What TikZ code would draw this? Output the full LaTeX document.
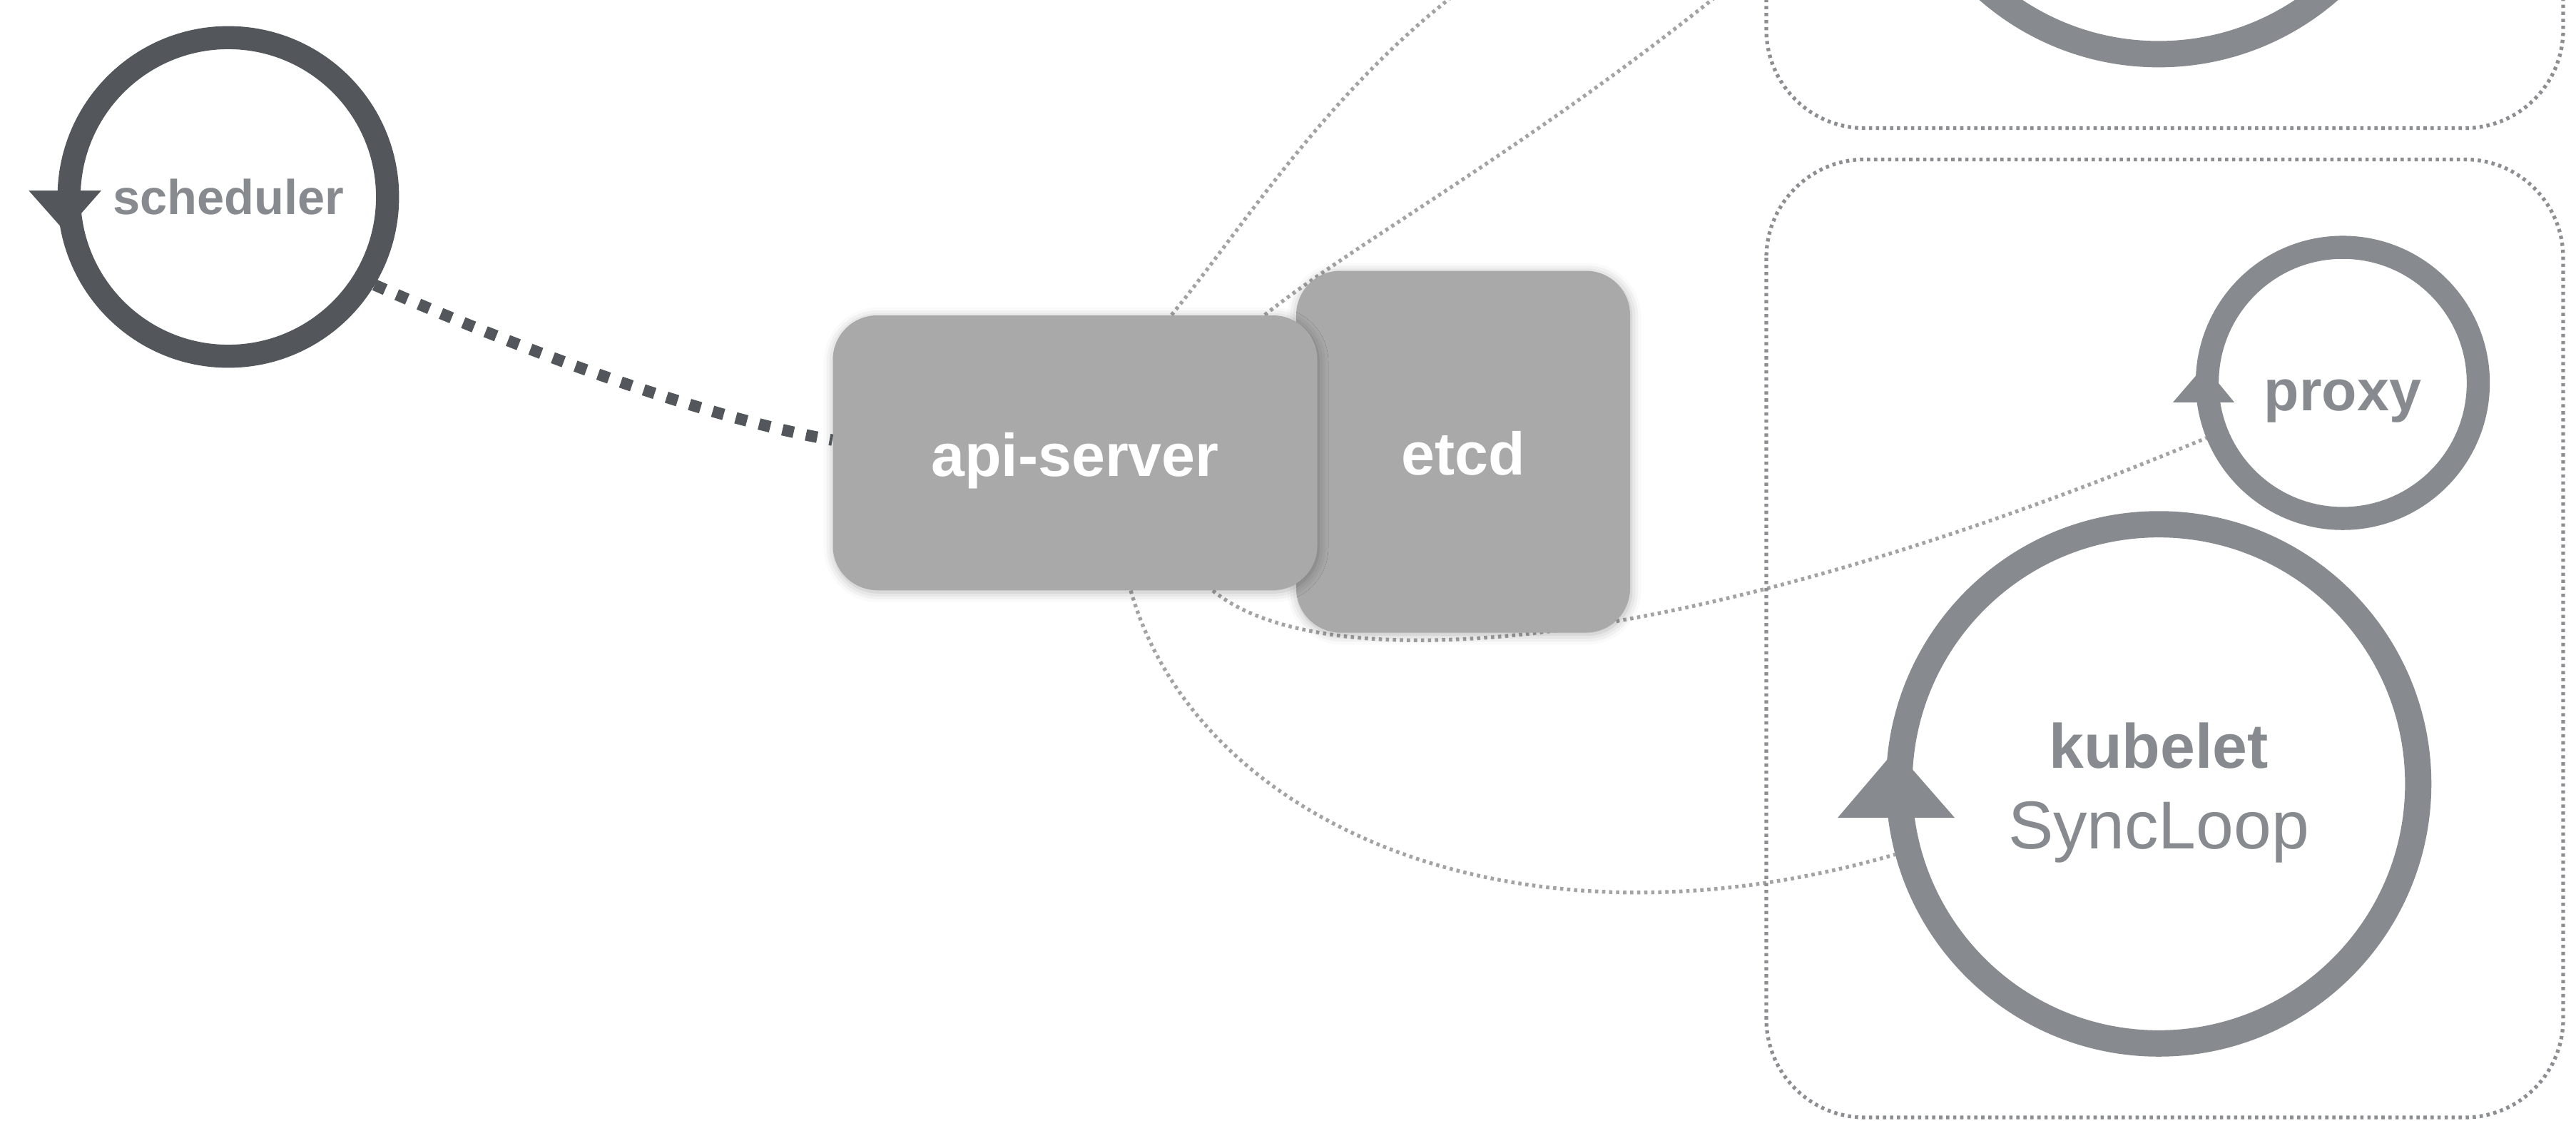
\documentclass[tikz,border=0pt]{standalone}
\usepackage{fontspec}
\setmainfont{Liberation Sans}
\usetikzlibrary{shadows.blur,backgrounds}

\definecolor{ringdark}{HTML}{53575C}
\definecolor{ringgray}{HTML}{878A8E}
\definecolor{boxgray}{HTML}{A8A9A8}
\definecolor{wiregray}{HTML}{A3A3A3}
\definecolor{framegray}{HTML}{8C8E91}

\tikzset{
	loopring/.style={circle, draw=ringgray, line width=9.2pt, text=ringgray},
	compbox/.style={rounded corners=0.62cm, fill=boxgray, text=white, font=\bfseries\fontsize{24}{28}\selectfont,
		blur shadow={shadow xshift=0.4pt, shadow yshift=-0.8pt, shadow blur radius=4pt, shadow opacity=30}},
	nodeframe/.style={draw=framegray, line width=1.5pt, dash pattern=on 1.3pt off 1.5pt, rounded corners=1.38cm},
	wire/.style={draw=wiregray, line width=1.5pt, dash pattern=on 1.3pt off 1.5pt},
}

\begin{document}
\begin{tikzpicture}

	\useasboundingbox (0,0) rectangle (36.11,-15.70);
	\clip (0,0) rectangle (36.11,-15.70);

	%node frames on the right
	\draw[nodeframe] (24.76,11.63) rectangle (35.93,-1.796);
	\draw[nodeframe] (24.76,-2.234) rectangle (35.93,-15.66);

	%master side
	\node[loopring, draw=ringdark, minimum size=4.465cm, font=\bfseries\fontsize{19.5}{24}\selectfont] (sched) at (3.20,-2.76) {scheduler};
	\fill[ringdark] (0.403,-2.671) -- (1.419,-2.671) -- (0.914,-3.247) -- cycle;

	\node[compbox, minimum width=4.68cm, minimum height=5.07cm] (etcd) at (20.51,-6.33) {\smash{\raisebox{-9.3pt}{etcd}}};
	\node[compbox, minimum width=6.79cm, minimum height=3.85cm] (api) at (15.07,-6.345) {\smash{\raisebox{-9.3pt}{api-server}}};

	%node side
	\node[loopring, minimum size=3.80cm, font=\bfseries\fontsize{23}{27}\selectfont] (proxy) at (32.84,-5.366) {\smash{\raisebox{-11pt}{proxy}}};
	\fill[ringgray] (30.46,-5.638) -- (31.32,-5.638) -- (30.90,-5.127) -- cycle;
	\node[loopring, line width=10.5pt, minimum size=7.276cm, align=center] (kubelet) at (30.26,-10.985)
		{\bfseries\fontsize{25}{31}\selectfont\rule{0pt}{25pt}kubelet\\[12pt]\mdseries\fontsize{27}{31}\selectfont SyncLoop};
	\fill[ringgray] (25.76,-11.46) -- (27.40,-11.46) -- (26.57,-10.51) -- cycle;

	%the node above, mostly out of view
	\node[loopring, minimum size=3.80cm] (proxyup) at (32.84,8.498) {};
	\node[loopring, line width=10.5pt, minimum size=7.276cm] (kubeletup) at (30.26,2.879) {};

	%watch lines
	\draw[ringdark, line width=4.6pt, dash pattern=on 4.6pt off 5pt] (sched.-31.7) .. controls +(1.612,-0.714) and +(-2.073,0.368) .. (api.177);
	\begin{scope}[on background layer]
		\draw[wire] (api.292.8) .. controls +(0.921,-3.224) and +(-5.389,-1.555) .. (kubelet.195.9);
		\draw[wire] (api.315.7) .. controls +(1.382,-1.152) and +(-7.909,-3.284) .. (proxy.202.6);
		\draw[wire] (api.55) .. controls +(1.773,2.165) and +(-5.850,0.472) .. (kubeletup.195.9);
		\draw[wire] (api.36.3) .. controls +(2.303,1.842) and +(-4.454,-7.245) .. (proxyup.202.6);
	\end{scope}

\end{tikzpicture}
\end{document}
